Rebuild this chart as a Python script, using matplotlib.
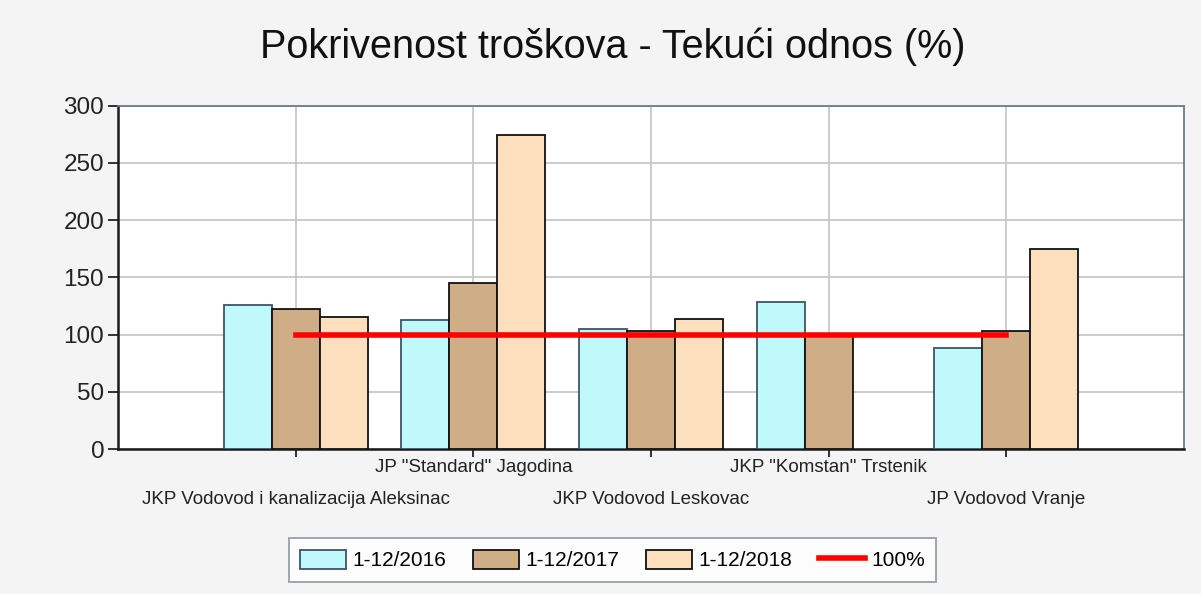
import numpy as np
import matplotlib
matplotlib.use('Agg')
import matplotlib.pyplot as plt
from matplotlib.lines import Line2D
from matplotlib.patches import Patch

plt.rcParams['font.family'] = ['Liberation Sans', 'DejaVu Sans']

companies = ['JKP Vodovod i kanalizacija Aleksinac', 'JP "Standard" Jagodina',
             'JKP Vodovod Leskovac', 'JKP "Komstan" Trstenik', 'JP Vodovod Vranje']
series_names = ['1-12/2016', '1-12/2017', '1-12/2018']
y2016 = [125.5, 112.5, 105, 128.5, 88.5]
y2017 = [122, 145, 103, 100, 103]
y2018 = [115.5, 274, 114, np.nan, 175]
target = [100, 100, 100, 100, 100]

colors = ['#bff9fc', '#cfae87', '#fddfbe']
edges = ['#3d5566', '#111111', '#111111']

fig = plt.figure(figsize=(12.01, 5.94), dpi=100)
fig.patch.set_facecolor('#f4f4f4')
ax = fig.add_axes([0.0983, 0.2441, 0.8875, 0.578])

x = np.arange(1, len(companies) + 1)
w = 0.27
for i, vals in enumerate([y2016, y2017, y2018]):
    ax.bar(x + (i - 1) * w, vals, width=w, color=colors[i], edgecolor=edges[i],
           linewidth=1.3, zorder=3)

ax.plot(x, target, color='#ff0000', linewidth=4, zorder=4)

ax.set_xlim(0, 6)
ax.set_ylim(0, 300)
ax.set_yticks(range(0, 301, 50))
ax.set_xticks(x)
ax.set_xticklabels([])
ax.tick_params(axis='y', labelsize=17.5, length=7, width=1.3, pad=3,
               color='#222222', labelcolor='#222222')
ax.tick_params(axis='x', length=6, width=1.3, color='#222222')
ax.grid(True, color='#c8c8c8', linewidth=1.3, zorder=0)

for side in ['left', 'bottom']:
    ax.spines[side].set_color('#1a1a1a')
    ax.spines[side].set_linewidth(1.8)
for side in ['top', 'right']:
    ax.spines[side].set_color('#6a7c8c')
    ax.spines[side].set_linewidth(1.3)

for i, name in enumerate(companies):
    yoff = -0.055 if i % 2 == 1 else -0.148
    ax.text(x[i], yoff, name, transform=ax.get_xaxis_transform(), ha='center', va='center',
            fontsize=13.5, color='#222222')

fig.text(0.51, 0.922, 'Pokrivenost troškova - Tekući odnos (%)', ha='center', va='center',
         fontsize=28.5, color='#111111')

handles = [Patch(facecolor=colors[i], edgecolor=edges[i], linewidth=1.3, label=series_names[i])
           for i in range(3)]
handles.append(Line2D([0], [0], color='#ff0000', linewidth=4, label='100%'))
leg = fig.legend(handles=handles, loc='center', bbox_to_anchor=(0.51, 0.057), ncol=4,
                 frameon=True, fancybox=False, fontsize=15, handlelength=2.2,
                 handleheight=1.0, columnspacing=1.3, handletextpad=0.3,
                 borderpad=0.55)
leg.get_frame().set_edgecolor('#7a8a9a')
leg.get_frame().set_linewidth(1.3)
leg.get_frame().set_facecolor('white')

fig.savefig('out.png', dpi=100, facecolor=fig.get_facecolor())
